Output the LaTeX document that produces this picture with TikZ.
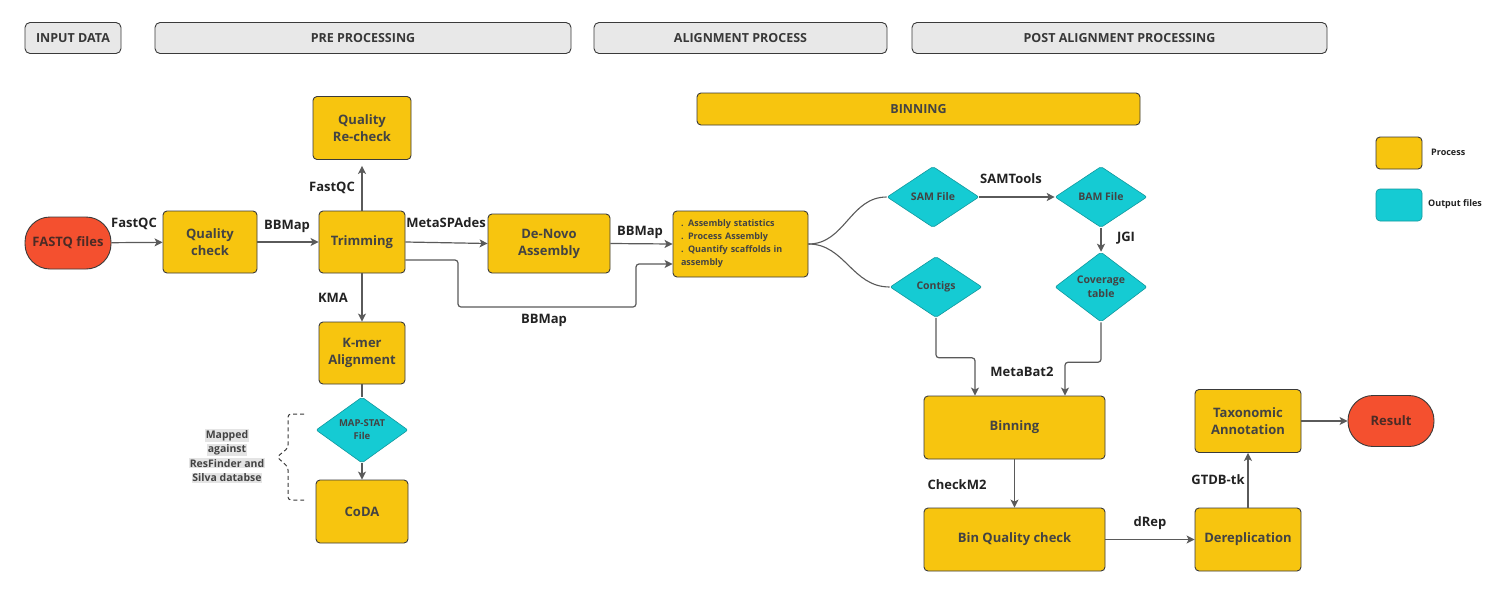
\documentclass[tikz,border=0pt]{standalone}
\usepackage{fontspec}
\setmainfont{Open Sans}
\usepackage{xcolor}
\usepackage{tikz}
\usetikzlibrary{arrows.meta,positioning,shapes.geometric}
\definecolor{procy}{HTML}{F7C50F}
\definecolor{outc}{HTML}{15CBD3}
\definecolor{termr}{HTML}{F4502F}
\definecolor{hdrfill}{HTML}{E8E8E8}
\definecolor{edge}{HTML}{3A3A3A}
\definecolor{wire}{HTML}{5A5A5A}
\definecolor{ink}{HTML}{222222}
\definecolor{hl}{HTML}{E4E4E4}
\tikzset{
  proc/.style={draw=edge, fill=procy, rounded corners=4pt, line width=0.9pt, align=center, text=ink!85, inner sep=0pt, font=\bfseries\fontsize{13}{17}\selectfont},
  outp/.style={diamond, draw=outc!75!black, fill=outc, rounded corners=2pt, line width=0.6pt, align=center, text=ink!85, inner sep=0pt, minimum width=92pt, minimum height=61pt, font=\bfseries\fontsize{10.5}{14}\selectfont},
  term/.style={draw=edge, fill=termr, rounded corners=25pt, line width=0.9pt, text=ink!80!termr, inner sep=0pt, font=\bfseries\fontsize{13}{17}\selectfont},
  hdr/.style={draw=edge, fill=hdrfill, rounded corners=5pt, line width=0.9pt, text=ink!90, inner sep=0pt, minimum height=31pt, font=\bfseries\fontsize{12.5}{15}\selectfont},
  arr/.style={draw=wire, line width=1.2pt, -{Stealth[length=8pt,width=8pt,inset=2pt]}},
  line/.style={draw=wire, line width=1.1pt},
  lab/.style={text=ink, inner sep=0pt, font=\bfseries\fontsize{13}{17}\selectfont},
  key/.style={text=ink, inner sep=0pt, anchor=west, font=\bfseries\fontsize{9}{11}\selectfont},
}

\begin{document}
\begin{tikzpicture}[x=1pt,y=-1pt]
\fill[white] (0,0) rectangle (1501,595);
\useasboundingbox (0,0) rectangle (1501,595);

% stage headers
\node[hdr, minimum width=96pt] (hin) at (73,38) {INPUT DATA};
\node[hdr, minimum width=416pt] (hpre) at (363,38) {PRE PROCESSING};
\node[hdr, minimum width=293pt] (haln) at (740.5,38) {ALIGNMENT PROCESS};
\node[hdr, minimum width=415pt] (hpost) at (1119.5,38) {POST ALIGNMENT PROCESSING};
\node[proc, minimum width=443pt, minimum height=32pt, font=\bfseries\fontsize{12.5}{15}\selectfont] (hbin) at (918.5,109) {BINNING};

% pre processing
\node[term, minimum width=86pt, minimum height=52pt] (fastq) at (68,243) {FASTQ files};
\node[proc, minimum width=94pt, minimum height=62pt] (qc) at (210,242) {Quality\\check};
\node[proc, minimum width=86pt, minimum height=62pt] (trim) at (362,242) {Trimming};
\node[proc, minimum width=98pt, minimum height=63pt] (recheck) at (362,128) {Quality\\Re-check};
\node[proc, minimum width=86pt, minimum height=62pt] (kmer) at (362,353) {K-mer\\Alignment};
\node[outp, font=\bfseries\fontsize{9.5}{13}\selectfont] (mapstat) at (362,430) {MAP-STAT\\File};
\node[proc, minimum width=92pt, minimum height=63pt] (coda) at (362,511.5) {CoDA};
\node[text=ink!85, inner sep=0pt, align=center, font=\bfseries\fontsize{10.5}{14.5}\selectfont] (mapped) at (227,456) {\fboxsep=0.8pt\colorbox{hl}{Mapped}\\\fboxsep=0.8pt\colorbox{hl}{against}\\\fboxsep=0.8pt\colorbox{hl}{ResFinder and}\\\fboxsep=0.8pt\colorbox{hl}{Silva databse}};
\draw[draw=edge, line width=1pt, dashed, dash pattern=on 4pt off 3pt, rounded corners=3pt]
  (304,414) -- (288,414) -- (288,448) -- (277,457) -- (288,467) -- (288,500) -- (304,500);

% alignment
\node[proc, minimum width=122pt, minimum height=59pt] (denovo) at (549,243.5) {De-Novo\\Assembly};
\node[proc, minimum width=135pt, minimum height=66pt, align=left, text width=119pt, font=\bfseries\fontsize{9}{13}\selectfont] (asm) at (740.5,244) {. Assembly statistics\\. Process Assembly\\. Quantify scaffolds in\\assembly};

% post alignment
\node[outp] (sam) at (933,197) {SAM File};
\node[outp] (bam) at (1101,197) {BAM File};
\node[outp] (contig) at (936,287) {Contigs};
\node[outp] (cov) at (1101,287) {Coverage\\table};
\node[proc, minimum width=181pt, minimum height=63pt] (bin) at (1014.5,427.5) {Binning};
\node[proc, minimum width=181pt, minimum height=63pt] (binqc) at (1014.5,539.5) {Bin Quality check};
\node[proc, minimum width=106pt, minimum height=63pt] (derep) at (1248,539.5) {Dereplication};
\node[proc, minimum width=106pt, minimum height=63pt] (tax) at (1248,421) {Taxonomic\\Annotation};
\node[term, minimum width=86pt, minimum height=51pt] (result) at (1391,421) {Result};

% legend
\node[proc, minimum width=46pt, minimum height=32pt] (kproc) at (1399,153) {};
\node[key] (kproct) at (1431,152) {Process};
\node[draw=outc!75!black, fill=outc, rounded corners=4pt, line width=0.6pt, minimum width=46pt, minimum height=32pt] (kout) at (1399,205) {};
\node[key] (koutt) at (1428,204) {Output files};

% connectors
\draw[arr] (fastq) -- (qc);
\draw[arr] (qc) -- (trim);
\draw[arr, shorten >=6pt] (trim) -- (recheck);
\draw[arr] (trim) -- (kmer);
\draw[line] (kmer) -- (mapstat);
\draw[arr] (mapstat) -- (coda);
\draw[arr] (trim.east) -- (denovo.west);
\draw[arr] (denovo.east) -- ([yshift=0pt]asm.west);
\draw[arr, rounded corners=3pt] ([yshift=-18pt]trim.east) -- (458,260) |- (636,307) |- ([yshift=-20pt]asm.west);
\draw[line] (asm.east) .. controls (845,244) and (850,197) .. (sam.west);
\draw[line] (asm.east) .. controls (845,244) and (852,287) .. (contig.west);
\draw[arr] (sam) -- (bam);
\draw[arr] (bam) -- (cov);
\draw[arr, rounded corners=3pt] (contig.south) -- ++(0,40) -| ([xshift=-39.5pt]bin.north);
\draw[arr, rounded corners=3pt] (cov.south) -- ++(0,40) -| ([xshift=50.5pt]bin.north);
\draw[arr] (bin) -- (binqc);
\draw[arr] (binqc) -- (derep);
\draw[arr] (derep) -- (tax);
\draw[arr] (tax) -- (result);

% connector labels
\node[lab] (lfq1) at (134,224) {FastQC};
\node[lab] (lbb1) at (287,226) {BBMap};
\node[lab] (lfq2) at (332,188) {FastQC};
\node[lab] (lkma) at (333,298) {KMA};
\node[lab] (lspa) at (446,223) {MetaSPAdes};
\node[lab] (lbb2) at (640,232) {BBMap};
\node[lab] (lbb3) at (544,320) {BBMap};
\node[lab] (lsam) at (1011,179) {SAMTools};
\node[lab] (ljgi) at (1126,238) {JGI};
\node[lab] (lmb) at (1022,372) {MetaBat2};
\node[lab] (lcm) at (957,485) {CheckM2};
\node[lab] (ldrep) at (1150,523) {dRep};
\node[lab] (lgtdb) at (1218,480) {GTDB-tk};
\end{tikzpicture}
\end{document}
